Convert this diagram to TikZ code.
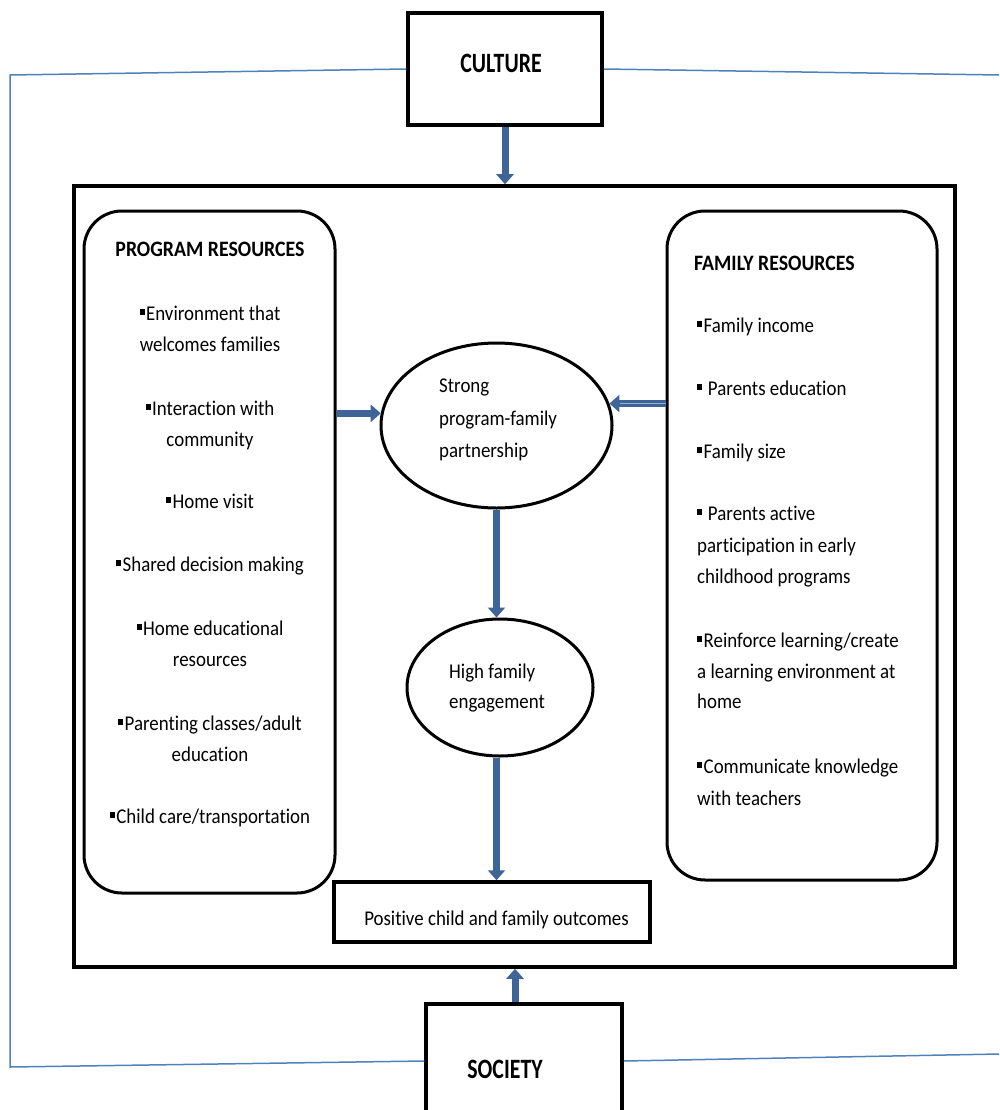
\documentclass[tikz,border=0pt]{standalone}
\usepackage{fontspec}
\setmainfont{Carlito}[FakeStretch=0.9, Ligatures=NoCommon]
\newfontfamily\capfont{Carlito}[FakeStretch=0.78, Ligatures=NoCommon]
\usetikzlibrary{arrows.meta,shapes.geometric}
\definecolor{arrowblue}{RGB}{63,101,152}
\definecolor{lineblue}{RGB}{79,129,189}
\definecolor{stripeblue}{RGB}{150,175,210}
\newcommand\bul{\rule[5pt]{5pt}{6pt}\hspace{1.5pt}}
\begin{document}
\begin{tikzpicture}[x=1pt,y=-1pt,
  box/.style={draw=black, line width=3.5pt, rectangle, inner sep=0},
  rbox/.style={draw=black, line width=3pt, rounded corners=38pt, rectangle, inner sep=0},
  oval/.style={draw=black, line width=3pt, ellipse, inner sep=0},
  body/.style={font=\fontsize{21}{31.5}\selectfont, inner sep=0},
  head/.style={font=\bfseries\fontsize{22}{26}\selectfont, inner sep=0},
  bighead/.style={font=\capfont\bfseries\fontsize{28}{32}\selectfont, inner sep=0},
  blk/.style={draw=arrowblue, line width=7pt, -{Triangle[width=17pt,length=10pt]}},
  frameline/.style={draw=lineblue, line width=1.5pt},
]
\useasboundingbox (0,0) rectangle (999,1110);
\clip (0,0) rectangle (999,1110);

% frame line corners
\coordinate (tl) at (10,75);
\coordinate (bl) at (10,1067);
\coordinate (tr) at (999,75);
\coordinate (br) at (999,1054);

% boxes
\node[box, minimum width=194pt, minimum height=112pt] (cult) at (505,69) {};
\node[box, minimum width=881pt, minimum height=781pt] (main) at (514.5,576.5) {};
\node[rbox, minimum width=251pt, minimum height=682pt] (prog) at (209.5,552) {};
\node[rbox, minimum width=270pt, minimum height=669pt] (fam) at (802,545.5) {};
\node[oval, minimum width=231pt, minimum height=165pt] (e1) at (496.5,425.5) {};
\node[oval, minimum width=186pt, minimum height=137pt] (e2) at (500,687.5) {};
\node[box, minimum width=316pt, minimum height=60pt] (outc) at (492,912) {};
\node[box, minimum width=196pt, minimum height=121pt] (soc) at (524,1064.5) {};

\draw[frameline] (cult.west) -- (tl) -- (bl) -- ([yshift=3.5pt]soc.west);
\draw[frameline] (cult.east) -- (tr);
\draw[frameline] ([yshift=3.5pt]soc.east) -- (br);

% arrows
\draw[blk] (cult.south) -- (cult.south |- main.north);
\draw[blk] (prog.east |- e1.174) -- (e1.174);
\draw[blk] (fam.west |- e1.11) -- (e1.11);
\draw[stripeblue, line width=1.2pt, shorten >=11pt] (fam.west |- e1.11) -- (e1.11);
\draw[blk] (e1.south) -- (e1.south |- e2.north);
\draw[blk] (e1.south |- e2.south) -- (e1.south |- outc.north);
\draw[blk] ([xshift=-9pt]soc.north) -- ([xshift=-9pt]soc.north |- main.south);

% texts
\node[bighead, anchor=base] (culttxt) at (501,73) {CULTURE};
\node[bighead, anchor=base] (soctxt) at (505,1078) {SOCIETY};
\node[head, anchor=base] (proghead) at (210,256) {PROGRAM RESOURCES};
\node[head, anchor=base west] (famhead) at (694,270) {FAMILY RESOURCES};

\foreach \y/\t [count=\i] in {320/{\bul Environment that}, 351/{welcomes families},
  415/{\bul Interaction with}, 446/{community}, 508/{\bul Home visit},
  571/{\bul Shared decision making}, 635/{\bul Home educational}, 666/{resources},
  730/{\bul Parenting classes/adult}, 761/{education},
  823/{\bul Child care/transportation}}
  \node[body, anchor=base] (L\i) at (210,\y) {\t};

\foreach \y/\t [count=\i] in {332/{\bul Family income}, 395/{\bul\ Parents education},
  458/{\bul Family size}, 520/{\bul\ Parents active}, 552/{participation in early},
  583/{childhood programs}, 647/{\bul Reinforce learning/create},
  678/{a learning environment at}, 708/{home},
  773/{\bul Communicate knowledge}, 805/{with teachers}}
  \node[body, anchor=base west] (R\i) at (697,\y) {\t};

\node[body, anchor=base west] (s1) at (439,392) {Strong};
\node[body, anchor=base west] (s2) at (439,425) {program-family};
\node[body, anchor=base west] (s3) at (439,457) {partnership};
\node[body, anchor=base west] (h1) at (449,678) {High family};
\node[body, anchor=base west] (h2) at (449,708) {engagement};
\node[body, anchor=base] (outtxt) at (496.5,925) {Positive child and family outcomes};
\end{tikzpicture}
\end{document}
